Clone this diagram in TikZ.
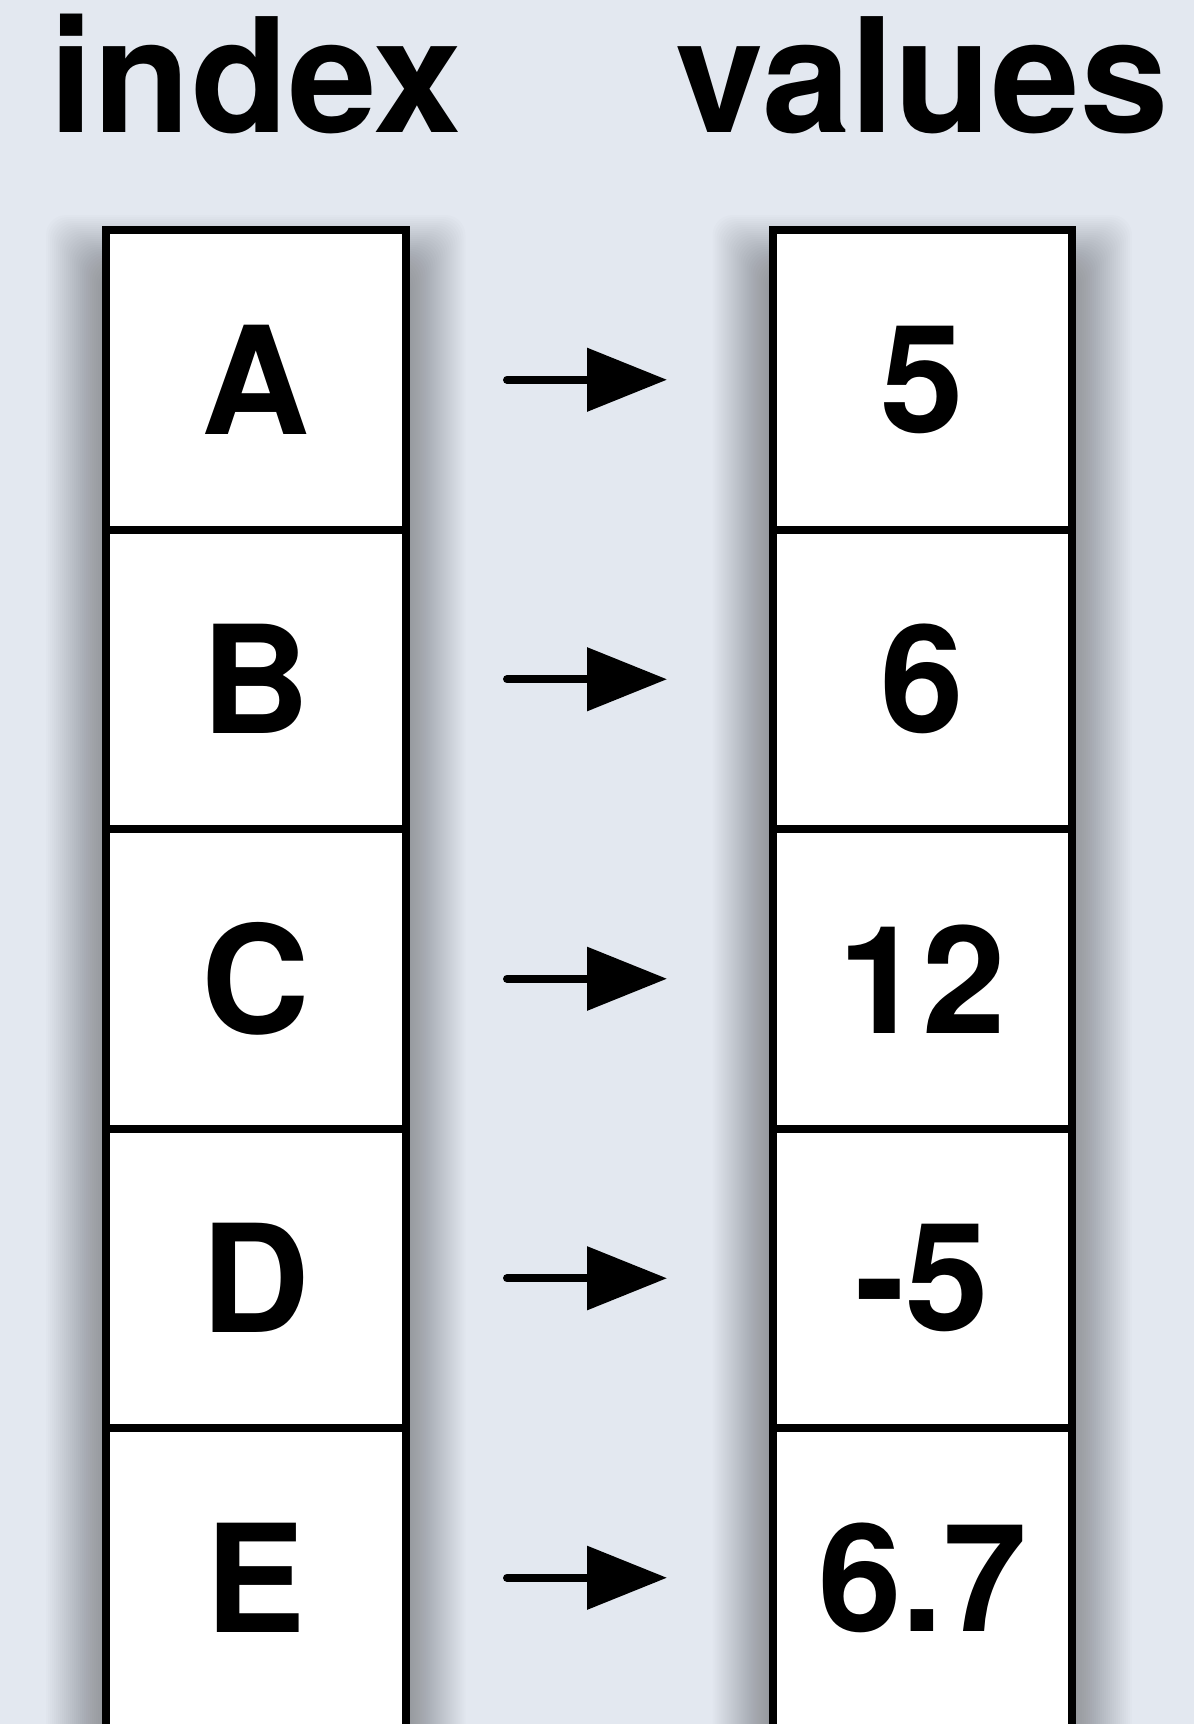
\documentclass[tikz,border=0pt]{standalone}
\usepackage{fontspec}
\setmainfont{TeX Gyre Heros}
\usetikzlibrary{arrows.meta,positioning}
\definecolor{pagebg}{RGB}{227,232,240}

\begin{document}
\begin{tikzpicture}[
    x=1pt, y=-1pt,
    cell/.style={draw=black, fill=white, line width=8pt, minimum width=299.5pt, minimum height=299.5pt, inner sep=0pt, outer sep=0pt, font=\fontsize{150}{150}\selectfont\bfseries},
    head/.style={inner sep=0pt, font=\fontsize{159}{159}\selectfont\bfseries},
    shade layer/.style={fill=black, fill opacity=0.013, rounded corners=20pt},
    link/.style={-{Triangle[length=80pt,width=62pt,fill=black]}, line width=8pt, line cap=round, shorten <=101.5pt, shorten >=105.5pt}
  ]
  \useasboundingbox (0,0) rectangle (1194,1724);
  \fill[pagebg] (0,0) rectangle (1194,1724);

  % soft shadows behind both columns
  \foreach \r in {2,4,...,60} {
    \fill[shade layer] (106-\r,275-\r) rectangle (405.5+\r,1780);
    \fill[shade layer] (772.5-\r,275-\r) rectangle (1072+\r,1780);
  }

  % index column
  \node[cell] (i1) at (255.75,379.75) {A};
  \node[cell, below=0pt of i1] (i2) {B};
  \node[cell, below=0pt of i2] (i3) {C};
  \node[cell, below=0pt of i3] (i4) {D};
  \node[cell, below=0pt of i4] (i5) {E};

  % values column
  \node[cell] (v1) at (922.25,379.75) {5};
  \node[cell, below=0pt of v1] (v2) {6};
  \node[cell, below=0pt of v2] (v3) {12};
  \node[cell, below=0pt of v3] (v4) {-5};
  \node[cell, below=0pt of v4] (v5) {6.7};

  % headers
  \node[head, above=96pt of i1] (hindex) {index};
  \node[head, above=96pt of v1] (hvalues) {values};

  % index -> value
  \draw[link] (i1) -- (v1);
  \draw[link] (i2) -- (v2);
  \draw[link] (i3) -- (v3);
  \draw[link] (i4) -- (v4);
  \draw[link] (i5) -- (v5);
\end{tikzpicture}
\end{document}
